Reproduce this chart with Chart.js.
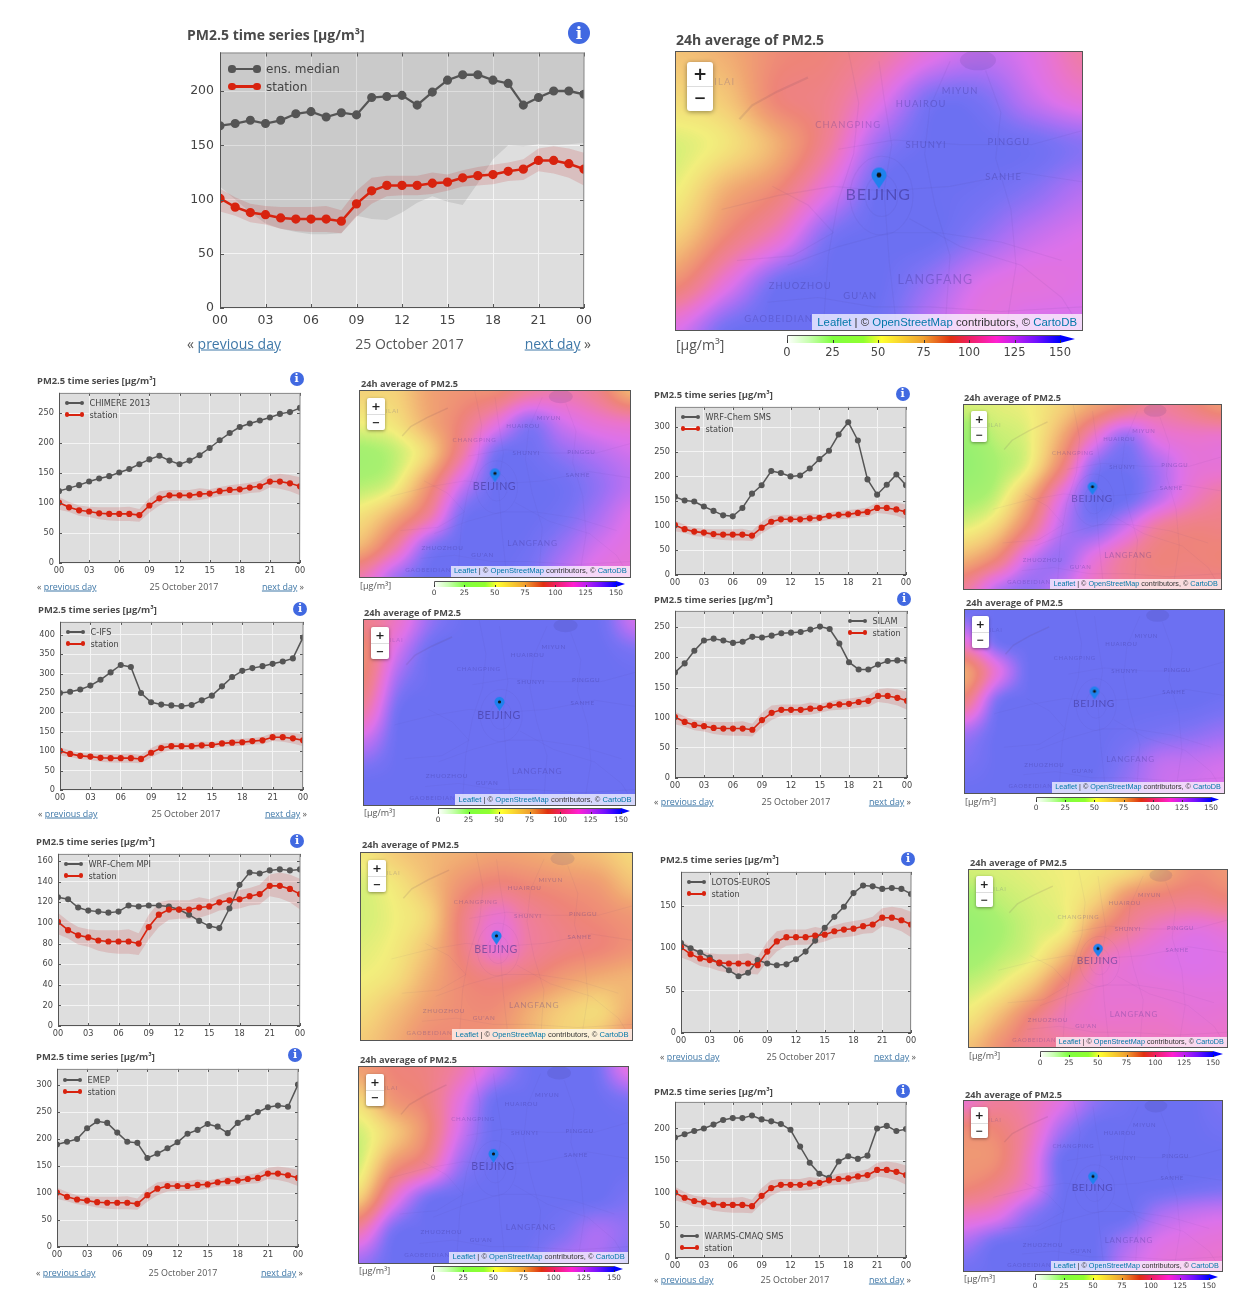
<!DOCTYPE html>
<html>
<head>
<meta charset="utf-8">
<title>PM2.5 Beijing</title>
<script src="https://cdn.jsdelivr.net/npm/chart.js@4"></script>
<style>
html, body { margin: 0; padding: 0; background: #fff; }
#page { position: relative; width: 1259px; height: 1303px; overflow: hidden; font-family: "Open Sans", sans-serif; color: #444; filter: blur(.35px); }
#page canvas { position: absolute; }
.txt { position: absolute; white-space: nowrap; transform: translateY(-50%); }
.mid { transform: translate(-50%, -50%); }
.end { transform: translate(-100%, -50%); }
a { color: #3f78a8; text-decoration: underline; }
</style>
</head>
<body>
<div id="page"></div>
<script>
// ******************* DADOS DAS SÉRIES *******************
const hours = ['00','01','02','03','04','05','06','07','08','09','10','11','12','13','14','15','16','17','18','19','20','21','22','23','00']

const station     = [101,93,88,86,83,82,82,82,80,96,108,113,113,113,115,116,120,122,123,126,128,136,136,133,128]
const stationHigh = [110,102,96,94,93,93,93,94,90,108,120,122,122,122,125,123,127,130,132,134,137,147,149,147,143]
const stationLow  = [89,85,79,77,73,71,70,70,69,84,96,103,104,104,105,108,112,113,114,117,118,126,124,120,113]

const ensMedian = [168,170,173,170,173,179,181,176,180,178,194,195,196,187,199,210,215,215,210,207,187,194,200,200,197]
const ensLow    = [112,100,88,78,73,70,68,68,69,85,82,81,88,97,103,98,95,115,137,150,149,151,150,151,152]
const chimere   = [120,125,130,136,141,145,151,157,165,173,179,171,165,171,180,192,205,217,227,233,238,243,249,252,259]
const cifs      = [250,253,259,269,284,303,322,317,250,226,220,218,216,219,231,243,267,291,307,314,319,325,331,339,393]
const wrfSms    = [159,151,149,139,130,121,119,136,165,182,211,207,200,202,216,235,252,285,310,273,194,163,183,204,182]
const silam     = [175,190,211,228,231,228,224,226,234,233,236,240,241,242,246,251,247,223,192,180,180,188,194,195,194]
const wrfMpi    = [125,123,115,112,111,110,111,117,116,117,117,116,113,108,102,97,95,114,137,149,148,151,152,151,152]
const emep      = [190,195,200,220,233,230,212,195,193,165,173,183,194,210,217,228,223,211,230,240,250,259,262,260,301]
const lotos     = [106,100,95,89,82,74,67,71,86,82,80,81,87,96,109,124,137,149,165,174,173,170,171,170,164]
const warms     = [186,191,196,200,206,213,216,216,220,214,211,207,198,172,147,130,124,149,157,153,158,200,204,196,199]

// ******************* GRADES DOS MAPAS *******************
const gridEns = [
  [65,72,85,90,100,118,128,120,102],
  [57,64,88,95,118,145,145,128,115],
  [46,54,72,100,138,150,150,148,142],
  [50,72,88,120,150,150,148,142,132],
  [62,88,112,145,150,150,140,128,122],
  [85,118,148,150,150,138,122,118,120],
  [122,148,150,150,148,130,118,125,125]]
const gridChimere = [
  [60,60,75,82,85,100,105,95,70],
  [50,54,72,90,115,140,125,115,110],
  [36,42,60,100,145,148,140,132,125],
  [40,48,80,125,150,150,148,140,130],
  [55,72,100,145,150,150,146,135,122],
  [70,100,140,150,150,148,138,125,118],
  [105,135,150,150,150,145,130,118,115]]
const gridCifs = [
  [95,112,140,150,150,150,150,148,125],
  [85,125,150,150,150,150,150,150,145],
  [90,138,150,150,150,150,150,150,150],
  [105,148,150,150,150,150,150,150,150],
  [130,150,150,150,150,150,150,150,150],
  [148,150,150,150,150,150,150,150,150],
  [150,150,150,150,150,150,150,150,150]]
const gridMpi = [
  [52,62,68,72,76,74,70,66,58],
  [46,53,66,82,90,86,82,78,66],
  [45,50,60,92,112,98,90,85,80],
  [47,52,66,92,115,100,92,88,82],
  [50,56,72,86,92,88,78,72,70],
  [56,66,78,84,84,72,62,58,72],
  [62,72,84,84,80,70,60,65,82]]
const gridEmep = [
  [78,88,92,105,128,148,150,148,118],
  [58,80,90,118,148,150,150,150,145],
  [45,62,85,125,150,150,150,150,150],
  [46,80,100,138,150,150,150,150,150],
  [62,112,145,150,150,150,150,150,145],
  [105,145,150,150,150,150,145,135,140],
  [138,150,150,150,150,148,135,135,145]]
const gridSms = [
  [45,47,50,60,75,88,100,92,80],
  [32,42,48,72,110,138,118,112,112],
  [28,38,50,88,140,148,135,118,115],
  [36,44,72,118,150,150,132,112,100],
  [48,60,92,130,142,125,100,92,92],
  [70,88,125,138,118,100,90,90,88],
  [100,130,140,128,110,100,95,95,95]]
const gridSilam = [
  [148,150,150,150,150,150,150,150,150],
  [118,148,150,150,150,150,150,150,150],
  [75,118,150,150,150,150,150,150,150],
  [95,145,150,150,150,150,150,150,148],
  [135,150,150,150,150,148,145,142,138],
  [145,150,150,150,150,142,130,128,125],
  [150,150,150,150,148,138,128,125,122]]
const gridLotos = [
  [45,46,48,50,52,58,72,84,80],
  [36,42,46,50,62,85,92,95,90],
  [30,38,45,52,82,100,112,118,114],
  [36,42,50,72,105,115,120,122,120],
  [44,52,68,95,112,115,116,118,118],
  [54,70,92,108,112,112,112,115,114],
  [66,84,98,100,105,108,108,110,110]]
const gridWarms = [
  [112,100,105,120,140,148,150,150,145],
  [85,88,105,135,150,150,150,150,148],
  [80,84,110,148,150,150,150,150,150],
  [86,95,115,148,150,150,150,148,146],
  [110,118,140,150,150,150,135,128,125],
  [135,148,150,150,150,135,122,118,115],
  [148,150,150,150,150,128,118,115,112]]

// ******************* CORES *******************
// paleta do mapa (já misturada com o fundo claro) e paleta cheia da barra
const mapStops = [[0,'#ffffff'],[25,'#8ff070'],[38,'#a8f070'],[50,'#f2ee7c'],[62,'#f4cc78'],[75,'#f0a472'],[88,'#ee8478'],[100,'#ef7e9c'],[112,'#ea74cc'],[122,'#dc72ea'],[135,'#a870f4'],[145,'#7a72f4'],[150,'#6c70f2']]
const barStops = [[0,'#ffffff'],[12,'#c8ffb0'],[25,'#80ff40'],[42,'#90ff30'],[52,'#ffff30'],[75,'#f0a030'],[90,'#e03010'],[100,'#ee2060'],[115,'#ff20d0'],[125,'#c020f0'],[137,'#7010ff'],[150,'#0000ff']]

const page = document.querySelector('#page')

function rgb(hex) {
    return [1, 3, 5].map(i => parseInt(hex.slice(i, i + 2), 16))
}

function corDoValor(v) {
    for (let i = 1; i < mapStops.length; i++) {
        if (v <= mapStops[i][0]) {
            let a = mapStops[i - 1], b = mapStops[i]
            let t = (v - a[0]) / (b[0] - a[0])
            let c1 = rgb(a[1]), c2 = rgb(b[1])
            return c1.map((c, k) => c + (c2[k] - c) * t)
        }
    }
    return rgb(mapStops[mapStops.length - 1][1])
}

// tabela pronta para não recalcular a cor por pixel
const lut = []
for (let i = 0; i <= 300; i++) lut.push(corDoValor(i / 2))

function texto(str, x, y, css, classe) {
    let d = document.createElement('div')
    d.className = 'txt ' + (classe || '')
    d.style.cssText = `left:${x}px;top:${y}px;` + (css || '')
    d.innerHTML = str
    page.appendChild(d)
    return d
}

function novoCanvas(x, y, w, h) {
    let c = document.createElement('canvas')
    c.width = w
    c.height = h
    c.style.left = x + 'px'
    c.style.top = y + 'px'
    c.style.width = w + 'px'
    c.style.height = h + 'px'
    page.appendChild(c)
    return c
}

// *********************GRÁFICO DE SÉRIE TEMPORAL ************************/
const fundoSerie = {
    id: 'fundoSerie',
    beforeDraw(chart) {
        let a = chart.chartArea, ctx = chart.ctx
        ctx.fillStyle = '#dedede'
        ctx.fillRect(a.left, a.top, a.width, a.height)
    },
    afterDraw(chart, args, opts) {
        let a = chart.chartArea, ctx = chart.ctx, t = opts.tick
        ctx.save()
        ctx.strokeStyle = '#555'
        ctx.lineWidth = 1
        chart.scales.x.ticks.forEach((tk, i) => {
            if (i % 3 != 0) return
            let px = Math.round(chart.scales.x.getPixelForTick(i)) + .5
            ctx.beginPath()
            ctx.moveTo(px, a.bottom); ctx.lineTo(px, a.bottom - t)
            ctx.moveTo(px, a.top); ctx.lineTo(px, a.top + t)
            ctx.stroke()
        })
        chart.scales.y.ticks.forEach(tk => {
            let py = Math.round(chart.scales.y.getPixelForValue(tk.value)) + .5
            ctx.beginPath()
            ctx.moveTo(a.left, py); ctx.lineTo(a.left + t, py)
            ctx.moveTo(a.right, py); ctx.lineTo(a.right - t, py)
            ctx.stroke()
        })
        ctx.strokeStyle = '#8a8a8a'
        ctx.beginPath()
        ctx.moveTo(a.left, a.top + .5); ctx.lineTo(a.right, a.top + .5)
        ctx.lineTo(a.right - .5, a.bottom)
        ctx.stroke()
        ctx.strokeStyle = '#555'
        ctx.beginPath()
        ctx.moveTo(a.left + .5, a.top); ctx.lineTo(a.left + .5, a.bottom - .5)
        ctx.lineTo(a.right, a.bottom - .5)
        ctx.stroke()
        ctx.restore()
    }
}

function legenda(x, y, nome, cor, grande) {
    let w = grande ? 25 : 15
    let r = grande ? 3.6 : 2.4
    let lw = grande ? 2.5 : 1.5
    let linha = document.createElement('div')
    linha.style.cssText = `position:absolute;left:${x}px;top:${y - lw / 2}px;width:${w}px;height:${lw}px;background:${cor}`
    page.appendChild(linha)
    ;[x, x + w].forEach(px => {
        let p = document.createElement('div')
        p.style.cssText = `position:absolute;left:${px - r}px;top:${y - r}px;width:${2 * r}px;height:${2 * r}px;border-radius:50%;background:${cor}`
        page.appendChild(p)
    })
    texto(nome, x + w + (grande ? 9 : 7.5), y, `font-family:'DejaVu Sans';font-size:${grande ? 12 : 8.2}px;color:#444`)
}

function serie(cfg) {
    let r = cfg.rect
    let g = cfg.grande
    let left = 44, topo = 8, dir = 16, base = g ? 24 : 16
    let largura = r[2] - r[0] + left + dir, altura = r[3] - r[1] + topo + base
    let canvas = novoCanvas(r[0] - left, r[1] - topo, largura, altura)

    let datasets = [
        { data: station, borderColor: '#d8230f', backgroundColor: '#d8230f', borderWidth: g ? 2.5 : 1.6, pointRadius: g ? 3.4 : 2.3, order: 0, clip: 0 },
        { data: cfg.valores, borderColor: '#555', backgroundColor: '#555', borderWidth: g ? 2.3 : 1.5, pointRadius: g ? 3.4 : 2.3, order: 1, clip: 0 },
        { data: stationLow, borderWidth: 0, pointRadius: 0, fill: false, order: 2 },
        { data: stationHigh, borderWidth: 0, pointRadius: 0, backgroundColor: 'rgba(190,30,30,.16)', fill: '-1', order: 2 }
    ]
    if (cfg.espalhamento) {
        datasets.push({ data: cfg.espalhamento, borderWidth: 0, pointRadius: 0, backgroundColor: 'rgba(0,0,0,.09)', fill: 'end', order: 3 })
    }

    let fonte = { family: 'DejaVu Sans', size: g ? 12.5 : 8.2 }
    let chart = new Chart(canvas, {
        type: 'line',
        data: { labels: hours, datasets: datasets },
        plugins: [fundoSerie],
        options: {
            responsive: false,
            maintainAspectRatio: false,
            animation: false,
            events: [],
            layout: { autoPadding: false, padding: { top: topo, right: dir, left: 0, bottom: 0 } },
            plugins: { legend: { display: false }, tooltip: { enabled: false }, fundoSerie: { tick: g ? 4 : 3 } },
            elements: { line: { tension: 0 } },
            scales: {
                x: {
                    type: 'category',
                    offset: false,
                    border: { display: false },
                    grid: { drawTicks: false, color: c => (c.index % 3 == 0 ? '#f4f4f4' : 'rgba(0,0,0,0)'), lineWidth: 1 },
                    ticks: { autoSkip: false, maxRotation: 0, padding: g ? 5 : 3, color: '#444', font: fonte, callback: (v, i) => (i % 3 == 0 ? hours[i] : '') },
                    afterFit(s) { s.height = base }
                },
                y: {
                    min: 0,
                    max: cfg.ymax,
                    border: { display: false },
                    grid: { drawTicks: false, color: '#f4f4f4', lineWidth: 1 },
                    ticks: { stepSize: cfg.passo, includeBounds: false, padding: g ? 6 : 5, color: '#444', font: fonte },
                    afterFit(s) { s.width = left }
                }
            }
        }
    })

    // a margem do rótulo do eixo empurra a área do gráfico: sobe o canvas e aumenta a altura
    let sobra = Math.round(chart.chartArea.top - topo)
    let folga = Math.round(altura - base - chart.chartArea.bottom)
    if (sobra != 0 || folga != 0) {
        canvas.style.top = (r[1] - topo - sobra) + 'px'
        chart.resize(largura, altura + sobra + folga)
        chart.update()
    }

    // legenda, título e ícone
    let d = cfg.legenda
    let lx = r[0] + d[0], ly = r[1] + d[1], passoLeg = g ? 17.5 : 11.8
    legenda(lx, ly, cfg.nome, '#555', g)
    legenda(lx, ly + passoLeg, 'station', '#d8230f', g)

    texto('PM2.5 time series [µg/m³]', cfg.titulo[0], cfg.titulo[1], `font-weight:700;font-size:${g ? 14 : 9.4}px;color:#4a4a4a`)
    let ir = g ? 11 : 7
    texto('i', cfg.info[0], cfg.info[1], `width:${2 * ir}px;height:${2 * ir}px;line-height:${2 * ir}px;border-radius:50%;background:#4169e1;color:#fff;text-align:center;font-family:'DejaVu Serif';font-weight:700;font-size:${g ? 17 : 11}px`, 'mid')

    if (cfg.nav) {
        let n = cfg.nav, fs = g ? 14 : 8.9
        let css = `font-size:${fs}px;color:#555`
        texto('« <a>previous day</a>', n[0], n[1], css)
        texto('25 October 2017', n[2], n[1], css, 'mid')
        texto('<a>next day</a> »', n[3], n[1], css, 'end')
    }
}

// *********************MAPA (grade de valores desenhada pelas escalas) ************************/
function catmull(p0, p1, p2, p3, t) {
    return 0.5 * (2 * p1 + (p2 - p0) * t + (2 * p0 - 5 * p1 + 4 * p2 - p3) * t * t + (3 * p1 - p0 - 3 * p2 + p3) * t * t * t)
}

function valorGrade(grid, x, y) {
    let nx = grid[0].length, ny = grid.length
    let ix = Math.min(Math.floor(x), nx - 2), iy = Math.min(Math.floor(y), ny - 2)
    let tx = x - ix, ty = y - iy
    let linha = j => {
        let row = grid[Math.max(0, Math.min(ny - 1, j))]
        let pega = i => row[Math.max(0, Math.min(nx - 1, i))]
        return catmull(pega(ix - 1), pega(ix), pega(ix + 1), pega(ix + 2), tx)
    }
    return catmull(linha(iy - 1), linha(iy), linha(iy + 1), linha(iy + 2), ty)
}

// traçado aproximado de estradas e rios, em unidades da grade
const estradas = [
    [[4,0.2],[4.1,1],[4.25,2],[4.1,3],[4.2,4.5],[4.35,6]],
    [[3.4,0],[3.6,1.1],[3.5,2.2],[3.2,3.2],[3,4.4],[2.9,6]],
    [[5.4,0.2],[5,1.2],[4.9,2.2],[5.1,3.3],[5.4,4.4],[5.3,6]],
    [[0.9,3.4],[2,3.1],[3.1,2.9],[4.1,3],[5.4,2.9],[6.8,2.6],[8,2.8]],
    [[3.2,2.1],[4.3,1.9],[5.6,2],[7,2],[8,1.7]],
    [[2.2,4.6],[3.2,4.2],[4.2,3.9],[5.2,3.9],[6.4,4.1],[7.6,4.5]],
    [[1.8,5.4],[2.8,5.3],[3.9,5.5],[5,5.5],[6.4,5.6],[8,5.5]],
    [[4.6,3.6],[5.6,4.2],[6.8,4.6],[7.6,5.3],[8,6]],
    [[1.9,2.9],[2.6,3.3],[3.1,3.9],[2.3,4.4],[1.2,4.5]],
    [[6.1,0.4],[6.4,1.3],[6.3,2.3],[6.6,3.4],[6.7,4.6],[6.5,6]]
]
const muralha = [[1.25,1.45],[1.5,1.15],[2,0.85],[2.6,0.55]]
const rotulos = [
    ['BEIJING', 0.498, 0.507, 16, 0.55],
    ['LANGFANG', 0.639, 0.815, 12.5, 0.3],
    ['CHANGPING', 0.424, 0.258, 9.4, 0.28],
    ['HUAIROU', 0.604, 0.182, 9.4, 0.33],
    ['MIYUN', 0.70, 0.138, 9.4, 0.33],
    ['SHUNYI', 0.616, 0.33, 9.4, 0.33],
    ['PINGGU', 0.82, 0.32, 9.4, 0.33],
    ['SANHE', 0.807, 0.445, 9.4, 0.33],
    ['ZHUOZHOU', 0.306, 0.839, 9.4, 0.33],
    ["GU'AN", 0.454, 0.875, 9.4, 0.33],
    ['GAOBEIDIAN', 0.253, 0.956, 9.4, 0.28],
    ['ILAI', 0.12, 0.104, 9.4, 0.22]
]
const marcador = [4, 2.72]

function fazPino(s) {
    let w = Math.round(16 * s) + 2, h = Math.round(21 * s) + 2
    let c = document.createElement('canvas')
    c.width = w
    c.height = h
    let ctx = c.getContext('2d')
    let r = 7.5 * s, cx = w / 2, cy = r + 1
    ctx.fillStyle = '#1f82ee'
    ctx.beginPath()
    ctx.arc(cx, cy, r, Math.PI * 0.85, Math.PI * 0.15)
    ctx.lineTo(cx, h - 1)
    ctx.closePath()
    ctx.fill()
    ctx.fillStyle = '#111'
    ctx.beginPath()
    ctx.arc(cx, cy, 2.4 * s, 0, 2 * Math.PI)
    ctx.fill()
    return c
}

const camadaMapa = {
    id: 'camadaMapa',
    beforeDatasetsDraw(chart, args, opts) {
        let a = chart.chartArea, ctx = chart.ctx
        let sx = chart.scales.x, sy = chart.scales.y
        let w = Math.round(a.width), h = Math.round(a.height)
        let img = ctx.createImageData(w, h)
        for (let j = 0; j < h; j++) {
            let gy = sy.getValueForPixel(a.top + j)
            for (let i = 0; i < w; i++) {
                let gx = sx.getValueForPixel(a.left + i)
                let v = valorGrade(opts.grid, Math.max(0, Math.min(8, gx)), Math.max(0, Math.min(6, gy)))
                let c = lut[Math.round(Math.max(0, Math.min(150, v)) * 2)]
                let k = (j * w + i) * 4
                img.data[k] = c[0]; img.data[k + 1] = c[1]; img.data[k + 2] = c[2]; img.data[k + 3] = 255
            }
        }
        ctx.putImageData(img, a.left, a.top)

        // traçado fraco por cima
        ctx.save()
        ctx.strokeStyle = 'rgba(70,50,130,.07)'
        ctx.lineWidth = Math.max(.8, 1.1 * opts.s)
        const passa = pts => {
            ctx.beginPath()
            pts.forEach((p, i) => {
                let px = sx.getPixelForValue(p[0]), py = sy.getPixelForValue(p[1])
                if (i == 0) ctx.moveTo(px, py)
                else ctx.lineTo(px, py)
            })
            ctx.stroke()
        }
        estradas.forEach(passa)
        let cx = sx.getPixelForValue(4.05), cy = sy.getPixelForValue(3.1)
        ;[[.32, .45], [.62, .85]].forEach(e => {
            ctx.beginPath()
            ctx.ellipse(cx, cy, e[0] * (sx.getPixelForValue(1) - sx.getPixelForValue(0)), e[1] * (sy.getPixelForValue(1) - sy.getPixelForValue(0)), 0, 0, 2 * Math.PI)
            ctx.stroke()
        })
        ctx.strokeStyle = 'rgba(90,60,90,.12)'
        ctx.lineWidth = 2.2 * opts.s
        passa(muralha)
        ctx.fillStyle = 'rgba(60,50,120,.12)'
        ctx.beginPath()
        ctx.ellipse(sx.getPixelForValue(5.95), sy.getPixelForValue(0.18), 18 * opts.s, 10 * opts.s, 0, 0, 2 * Math.PI)
        ctx.fill()
        ctx.restore()
    }
}

function mapa(cfg) {
    let r = cfg.rect, w = r[2] - r[0], h = r[3] - r[1]
    let s = w / 406
    let canvas = novoCanvas(r[0], r[1], w, h)
    canvas.style.outline = '1px solid #555'

    new Chart(canvas, {
        type: 'scatter',
        data: { datasets: [{ data: [{ x: marcador[0], y: marcador[1] }], pointStyle: fazPino(s), pointRadius: 8 }] },
        plugins: [camadaMapa],
        options: {
            responsive: false,
            animation: false,
            events: [],
            layout: { autoPadding: false, padding: 0 },
            plugins: { legend: { display: false }, tooltip: { enabled: false }, camadaMapa: { grid: cfg.grid, s: s } },
            scales: {
                x: { type: 'linear', min: 0, max: 8, display: false },
                y: { type: 'linear', min: 0, max: 6, reverse: true, display: false }
            }
        }
    })

    rotulos.forEach(l => {
        texto(l[0], r[0] + l[1] * w, r[1] + l[2] * h,
            `font-family:Lato,'Open Sans';font-size:${l[3] * s}px;letter-spacing:${(l[0] == 'BEIJING' ? 0.9 : 1.1) * s}px;color:rgba(58,48,140,${l[4]})`, 'mid')
    })

    // controle de zoom
    let z = document.createElement('div')
    z.style.cssText = `position:absolute;left:${r[0] + 11 * s}px;top:${r[1] + 10 * s}px;width:${26 * s}px;height:${49 * s}px;background:#fff;border-radius:${3 * s}px;box-shadow:0 1px ${5 * s}px rgba(0,0,0,.4)`
    page.appendChild(z)
    let sep = document.createElement('div')
    sep.style.cssText = `position:absolute;left:0;top:${24 * s}px;width:100%;height:1px;background:#ddd`
    z.appendChild(sep)
    texto('+', r[0] + 24 * s, r[1] + 22 * s, `font-family:'DejaVu Sans';font-weight:700;font-size:${17 * s}px;color:#222`, 'mid')
    texto('−', r[0] + 24 * s, r[1] + 46 * s, `font-family:'DejaVu Sans';font-weight:700;font-size:${15 * s}px;color:#222`, 'mid')

    // atribuição
    let at = document.createElement('div')
    at.style.cssText = `position:absolute;right:${1259 - r[2]}px;bottom:${1303 - r[3]}px;height:${16.5 * s}px;line-height:${16.5 * s}px;padding:0 ${5 * s}px;white-space:nowrap;background:rgba(255,255,255,.72);font-family:'Liberation Sans';font-size:${11.4 * s}px;color:#333`
    at.innerHTML = '<span style="color:#0078a8">Leaflet</span> | © <span style="color:#0078a8">OpenStreetMap</span> contributors, © <span style="color:#0078a8">CartoDB</span>'
    page.appendChild(at)

    texto('24h average of PM2.5', cfg.titulo[0], cfg.titulo[1], `font-weight:700;font-size:${cfg.grande ? 14 : 9.2}px;color:#4a4a4a`)
    if (cfg.barra) barra(cfg.barra, cfg.grande, r[0])
}

// *********************BARRA DE CORES ************************/
const fundoBarra = {
    id: 'fundoBarra',
    beforeDatasetsDraw(chart, args, opts) {
        let a = chart.chartArea, ctx = chart.ctx
        let sx = chart.scales.x
        let grad = ctx.createLinearGradient(sx.getPixelForValue(0), 0, sx.getPixelForValue(150), 0)
        barStops.forEach(st => grad.addColorStop(st[0] / 150, st[1]))
        ctx.fillStyle = grad
        ctx.fillRect(a.left, a.top, a.width, a.height)
        ctx.fillStyle = '#0000ff'
        ctx.beginPath()
        ctx.moveTo(a.right, a.top)
        ctx.lineTo(a.right + opts.seta, (a.top + a.bottom) / 2)
        ctx.lineTo(a.right, a.bottom)
        ctx.closePath()
        ctx.fill()
        ctx.strokeStyle = '#555'
        ctx.lineWidth = 1
        ctx.beginPath()
        ctx.moveTo(a.left + .5, a.bottom); ctx.lineTo(a.left + .5, a.top + .5); ctx.lineTo(a.right, a.top + .5)
        ctx.stroke()
        ctx.strokeStyle = '#333'
        sx.ticks.forEach(t => {
            let px = Math.round(sx.getPixelForValue(t.value)) + .5
            ctx.beginPath()
            ctx.moveTo(px, a.bottom); ctx.lineTo(px, a.bottom - opts.tick)
            ctx.stroke()
        })
    }
}

function barra(b, g, mapaX) {
    // b: x do 0, x do 150, x da ponta, y topo, y base
    let esq = 14, dir = b[2] - b[1] + 12
    let base = g ? 18 : 11
    let canvas = novoCanvas(b[0] - esq, b[3], b[1] - b[0] + esq + dir, b[4] - b[3] + base)
    new Chart(canvas, {
        type: 'scatter',
        data: { datasets: [{ data: [], pointRadius: 0 }] },
        plugins: [fundoBarra],
        options: {
            responsive: false,
            animation: false,
            events: [],
            layout: { autoPadding: false, padding: { left: esq, right: dir, top: 0, bottom: 0 } },
            plugins: { legend: { display: false }, tooltip: { enabled: false }, fundoBarra: { seta: b[2] - b[1], tick: g ? 3 : 2 } },
            scales: {
                x: {
                    type: 'linear', min: 0, max: 150,
                    border: { display: false },
                    grid: { display: false, drawTicks: false },
                    ticks: { stepSize: 25, maxRotation: 0, padding: g ? 3 : 2, color: '#444', font: { family: 'DejaVu Sans', size: g ? 11.5 : 7.4 } },
                    afterFit(s) { s.height = base }
                },
                y: { display: false, min: 0, max: 1 }
            }
        }
    })
    texto('[µg/m³]', mapaX, b[3] + (g ? 9 : 4), `font-size:${g ? 14 : 9}px;color:#555`)
}

// *********************MONTAGEM DA PÁGINA ************************/
serie({ nome: 'ens. median', valores: ensMedian, espalhamento: ensLow, grande: true, rect: [220, 53, 584, 308], ymax: 235.5, passo: 50, legenda: [12, 16], titulo: [187, 34], info: [579, 33], nav: [187, 343, 409.5, 591] })
serie({ nome: 'CHIMERE 2013', valores: chimere, rect: [59, 393, 300, 563], ymax: 284, passo: 50, legenda: [8, 10], titulo: [37, 380], info: [296.5, 379], nav: [37, 586, 184, 304] })
serie({ nome: 'C-IFS', valores: cifs, rect: [60, 622, 303, 790], ymax: 433, passo: 50, legenda: [8, 10], titulo: [38, 609], info: [300, 608.5], nav: [38, 813, 186, 307] })
serie({ nome: 'WRF-Chem MPI', valores: wrfMpi, rect: [58, 854, 300, 1026], ymax: 167, passo: 20, legenda: [8, 10], titulo: [36, 841], info: [297, 840.5] })
serie({ nome: 'EMEP', valores: emep, rect: [57, 1069, 298, 1247], ymax: 330, passo: 50, legenda: [8, 11], titulo: [36, 1056], info: [295, 1055], nav: [36, 1272, 183, 303] })
serie({ nome: 'WRF-Chem SMS', valores: wrfSms, rect: [675, 407, 906, 575], ymax: 341, passo: 50, legenda: [8, 10], titulo: [654, 394], info: [902.5, 393.5] })
serie({ nome: 'SILAM', valores: silam, rect: [675, 611, 907, 778], ymax: 277, passo: 50, legenda: [175, 10], titulo: [654, 599], info: [904, 598.5], nav: [654, 801, 796, 911] })
serie({ nome: 'LOTOS-EUROS', valores: lotos, rect: [681, 872, 911, 1033], ymax: 190, passo: 50, legenda: [8, 10], titulo: [660, 859], info: [908, 858.5], nav: [660, 1056, 801, 916] })
serie({ nome: 'WARMS-CMAQ SMS', valores: warms, rect: [675, 1102, 906, 1258], ymax: 241, passo: 50, legenda: [7, 134], titulo: [654, 1091], info: [903, 1090.5], nav: [654, 1279, 795, 911] })

mapa({ grid: gridEns, grande: true, rect: [676, 52, 1082, 330], titulo: [676, 39], barra: [787, 1060, 1075, 335, 343] })
mapa({ grid: gridChimere, rect: [360, 391, 630, 577], titulo: [361, 383], barra: [434, 616, 625, 581, 587] })
mapa({ grid: gridCifs, rect: [364, 620, 635, 805], titulo: [364, 612], barra: [438, 621, 630, 808, 814] })
mapa({ grid: gridMpi, rect: [361, 853, 632, 1040], titulo: [362, 844] })
mapa({ grid: gridEmep, rect: [359, 1067, 628, 1263], titulo: [360, 1059], barra: [433, 614, 623, 1266, 1272] })
mapa({ grid: gridSms, rect: [964, 405, 1221, 589], titulo: [964, 397] })
mapa({ grid: gridSilam, rect: [965, 610, 1224, 793], titulo: [966, 602], barra: [1036, 1211, 1219, 797, 802] })
mapa({ grid: gridLotos, rect: [969, 870, 1227, 1047], titulo: [970, 862], barra: [1040, 1213, 1223, 1051, 1057] })
mapa({ grid: gridWarms, rect: [964, 1101, 1222, 1271], titulo: [965, 1094], barra: [1035, 1209, 1218, 1274, 1280] })
</script>
</body>
</html>
